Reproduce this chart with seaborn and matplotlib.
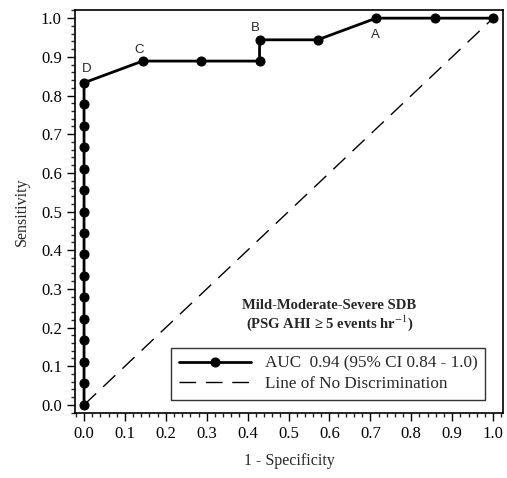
import numpy as np
import pandas as pd
import matplotlib
matplotlib.use("Agg")
import matplotlib.pyplot as plt
import seaborn as sns
from matplotlib.ticker import MultipleLocator, FormatStrFormatter

# ROC points (1 - specificity, sensitivity)
fpr = [0.0] * 16 + [0.143, 0.286, 0.429, 0.429, 0.571, 0.714, 0.857, 1.0]
tpr = [0.0, 0.056, 0.111, 0.167, 0.222, 0.278, 0.333, 0.389, 0.444, 0.5,
       0.556, 0.611, 0.667, 0.722, 0.778, 0.833,
       0.889, 0.889, 0.889, 0.944, 0.944, 1.0, 1.0, 1.0]
diag = [0.0, 1.0]
point_labels = ["D", "C", "B", "A"]
label_x = [0.0, 0.143, 0.429, 0.714]
label_y = [0.833, 0.889, 0.944, 1.0]

sns.set_style("ticks")
plt.rcParams["font.family"] = ["Liberation Serif", "DejaVu Serif"]
plt.rcParams["mathtext.fontset"] = "stix"

roc = pd.DataFrame({"fpr": fpr, "tpr": tpr})

fig = plt.figure(figsize=(5.07, 4.78), dpi=100)
ax = fig.add_axes([0.148, 0.136, 0.844, 0.843])

sns.lineplot(data=roc, x="fpr", y="tpr", sort=False, estimator=None,
             color="black", lw=2, marker="o", markersize=6.5,
             markeredgecolor="black", ax=ax,
             label="AUC  0.94 (95% CI 0.84 - 1.0)")
sns.lineplot(x=diag, y=diag, color="black", lw=1.0, ax=ax,
             linestyle=(0, (12, 7)),
             label="Line of No Discrimination")

offsets = [(2, 8), (-6, 6), (-6, 6), (-4, -14)]
has = ["center", "left", "left", "left"]
for lab, x, y, off, ha in zip(point_labels, label_x, label_y, offsets, has):
    ax.annotate(lab, (x, y), xytext=off, textcoords="offset points",
                family=["Liberation Sans"], fontsize=9.5, ha=ha)

ax.set_xlim(-0.022, 1.024)
ax.set_ylim(-0.021, 1.021)
ax.xaxis.set_major_locator(MultipleLocator(0.1))
ax.yaxis.set_major_locator(MultipleLocator(0.1))
ax.xaxis.set_minor_locator(MultipleLocator(0.02))
ax.yaxis.set_minor_locator(MultipleLocator(0.02))
ax.xaxis.set_major_formatter(FormatStrFormatter("%.1f"))
ax.yaxis.set_major_formatter(FormatStrFormatter("%.1f"))
ax.tick_params(which="major", direction="out", length=6, width=1,
               labelsize=12, colors="black")
ax.tick_params(which="minor", direction="out", length=3, width=1)
for s in ax.spines.values():
    s.set_linewidth(1.2)
    s.set_color("black")
    s.set_visible(True)

ax.set_xlabel("1 - Specificity", fontsize=11.5, labelpad=8)
ax.set_ylabel("Sensitivity", fontsize=11.5, labelpad=8)

ax.text(0.60, 0.256, "Mild-Moderate-Severe SDB", fontsize=10.5,
        fontweight="bold", ha="center", va="center")
ax.text(0.60, 0.212, "(PSG AHI \u2265 5 events hr$^{-1}$)",
        fontsize=10.5, fontweight="bold", ha="center", va="center")

leg = ax.legend(loc="lower right", bbox_to_anchor=(0.978, 0.012),
                fontsize=12.3, frameon=True, fancybox=False,
                edgecolor="black", handlelength=4.2, borderpad=0.45,
                labelspacing=0.25)
leg.get_frame().set_linewidth(1.0)

fig.savefig("out.png", dpi=100)
